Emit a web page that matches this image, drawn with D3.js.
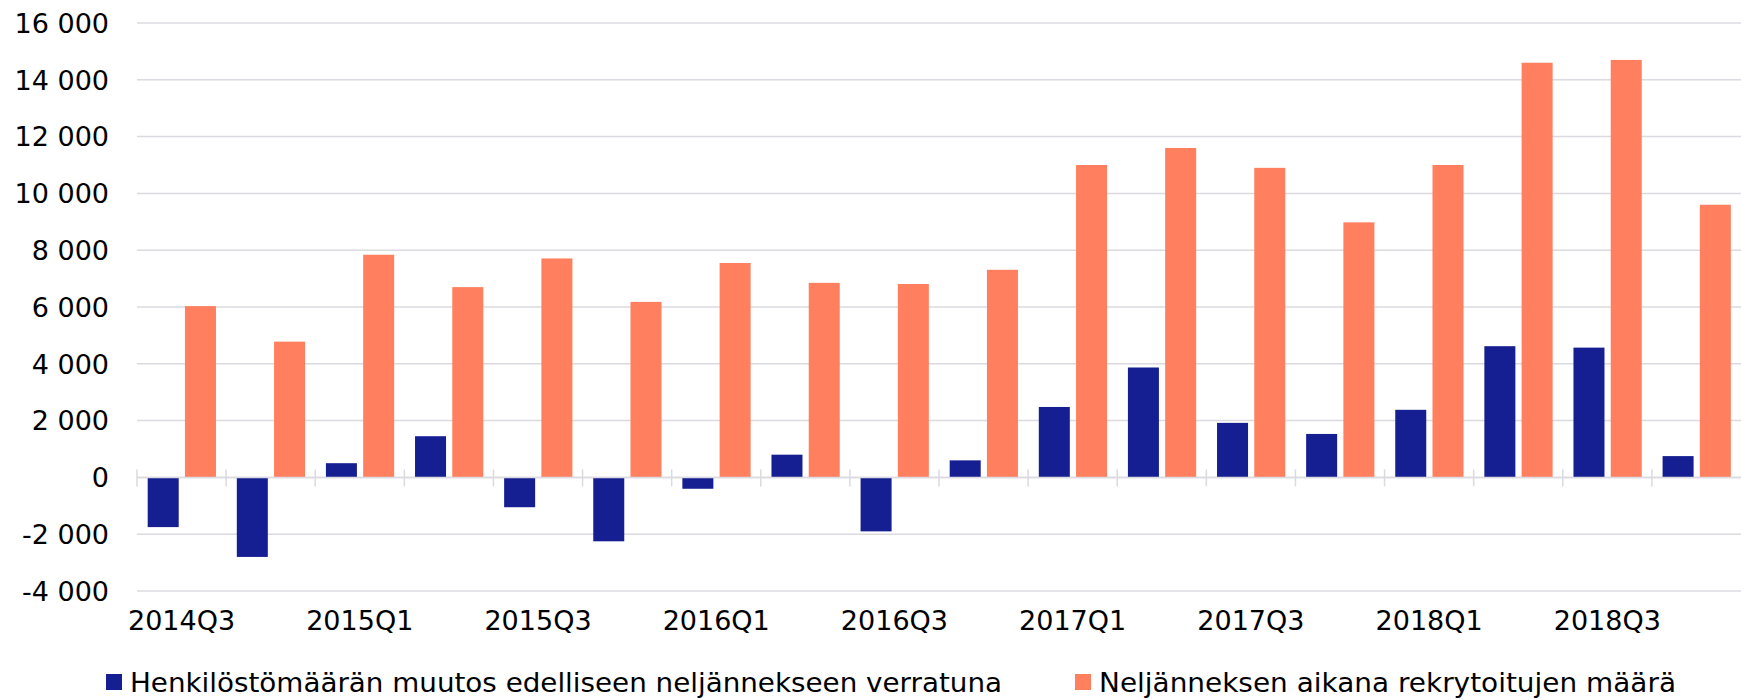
<!DOCTYPE html>
<html>
<head>
<meta charset="utf-8">
<script src="https://cdn.jsdelivr.net/npm/d3@7"></script>
<style>
  body { margin: 0; background: #fff; }
  text { font-family: "DejaVu Sans", Verdana, sans-serif; fill: #000; }
</style>
</head>
<body>
<div id="chart"></div>
<script>
// quarters on the x axis
const quarters = [
  '2014Q3', '2014Q4',
  '2015Q1', '2015Q2', '2015Q3', '2015Q4',
  '2016Q1', '2016Q2', '2016Q3', '2016Q4',
  '2017Q1', '2017Q2', '2017Q3', '2017Q4',
  '2018Q1', '2018Q2', '2018Q3', '2018Q4'
];

// change in headcount vs previous quarter
const headcountChange = [
  -1750, -2800, 500, 1450, -1050, -2250, -400, 800, -1900, 600,
  2480, 3870, 1920, 1530, 2380, 4620, 4570, 750
];

// recruited during the quarter
const recruited = [
  6030, 4780, 7840, 6700, 7710, 6180, 7550, 6850, 6810, 7310,
  11000, 11600, 10900, 8980, 11000, 14600, 14700, 9600
];

const yTicks = [-4000, -2000, 0, 2000, 4000, 6000, 8000, 10000, 12000, 14000, 16000];

const seriesNames = [
  'Henkilöstömäärän muutos edelliseen neljännekseen verratuna',
  'Neljänneksen aikana rekrytoitujen määrä'
];
const colors = ['#161f91', '#ff7f5e'];

const W = 1741, H = 700;
const margin = {left: 137, right: 0, top: 23, bottom: 109};

const svg = d3.select('#chart').append('svg')
  .attr('width', W).attr('height', H);

const x = d3.scaleBand()
  .domain(quarters)
  .range([margin.left, W - margin.right]);

const y = d3.scaleLinear()
  .domain([-4000, 16000])
  .range([H - margin.bottom, margin.top]);

const fmt = v => d3.format(',')(v).replace(/,/g, ' ').replace('−', '-');

// gridlines
svg.append('g').selectAll('line')
  .data(yTicks)
  .join('line')
  .attr('x1', margin.left).attr('x2', W - margin.right)
  .attr('y1', d => y(d)).attr('y2', d => y(d))
  .attr('stroke', '#dadae0').attr('stroke-width', 1.5);

// y labels
svg.append('g').selectAll('text')
  .data(yTicks)
  .join('text')
  .attr('x', 109).attr('y', d => y(d))
  .attr('dy', '0.36em')
  .attr('text-anchor', 'end')
  .style('font-size', '27px')
  .text(d => fmt(d));

// bars
const bandW = x.bandwidth();
const barW = bandW * 0.348;
const offsets = [bandW * 0.12, bandW * 0.538];

[headcountChange, recruited].forEach((vals, s) => {
  svg.append('g').selectAll('rect')
    .data(vals)
    .join('rect')
    .attr('x', (d, i) => x(quarters[i]) + offsets[s])
    .attr('width', barW)
    .attr('y', d => y(Math.max(0, d)))
    .attr('height', d => Math.abs(y(d) - y(0)))
    .attr('fill', colors[s]);
});

// zero axis with tick marks between categories
svg.append('line')
  .attr('x1', margin.left).attr('x2', W - margin.right)
  .attr('y1', y(0)).attr('y2', y(0))
  .attr('stroke', '#dadae0').attr('stroke-width', 1.5);

const boundaries = quarters.map(q => x(q));
svg.append('g').selectAll('line')
  .data(boundaries)
  .join('line')
  .attr('x1', d => d).attr('x2', d => d)
  .attr('y1', y(0) - 8).attr('y2', y(0) + 9)
  .attr('stroke', '#dadae0').attr('stroke-width', 1.5);

// x labels, every other quarter
svg.append('g').selectAll('text')
  .data(quarters.filter((q, i) => i % 2 === 0))
  .join('text')
  .attr('x', d => x(d) + bandW / 2)
  .attr('y', 630)
  .attr('text-anchor', 'middle')
  .style('font-size', '27px')
  .text(d => d);

// legend
const legendX = [106, 1075];
const legendLen = [872, 577];
seriesNames.forEach((name, s) => {
  const g = svg.append('g').attr('transform', `translate(${legendX[s]},674)`);
  g.append('rect').attr('width', 16).attr('height', 16).attr('fill', colors[s]);
  g.append('text').attr('x', 24).attr('y', 18)
    .style('font-size', '26.5px')
    .attr('textLength', legendLen[s])
    .attr('lengthAdjust', 'spacingAndGlyphs')
    .text(name);
});
</script>
</body>
</html>
